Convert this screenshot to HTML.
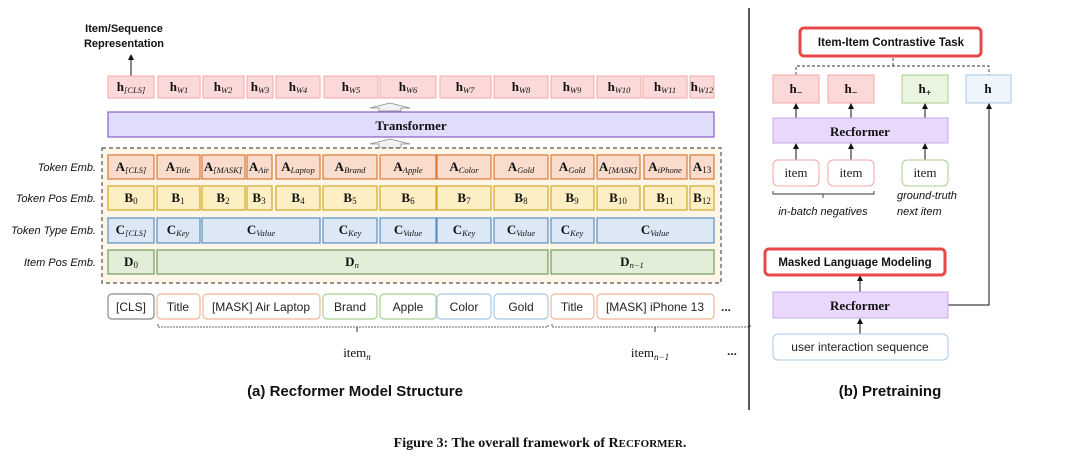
<!DOCTYPE html>
<html><head><meta charset="utf-8"><style>
html,body{margin:0;padding:0;background:#fff}
svg{display:block}
.b{font-family:"Liberation Serif",serif;font-weight:bold;font-size:13px;fill:#111}
.s{font-family:"Liberation Serif",serif;font-style:italic;font-weight:normal;font-size:8.5px}
.lab{font-family:"Liberation Sans",sans-serif;font-style:italic;font-size:11px;fill:#111}
.tok{font-family:"Liberation Sans",sans-serif;font-size:12px;fill:#222}
.cap{font-family:"Liberation Sans",sans-serif;font-weight:bold;font-size:15px;fill:#111}
</style></head><body>
<svg width="1080" height="466" viewBox="0 0 1080 466" xmlns="http://www.w3.org/2000/svg">
<defs><marker id="ah" markerWidth="6" markerHeight="6" refX="3" refY="3" orient="auto"><path d="M0,0 L6,3 L0,6 z" fill="#111"/></marker></defs>

<text x="124" y="32" text-anchor="middle" font-family="Liberation Sans,sans-serif" font-weight="bold" font-size="11" fill="#111">Item/Sequence</text>
<text x="124" y="47" text-anchor="middle" font-family="Liberation Sans,sans-serif" font-weight="bold" font-size="11" fill="#111">Representation</text>
<line x1="131" y1="76" x2="131" y2="57" stroke="#111" stroke-width="1" marker-end="url(#ah)"/>

<g fill="#fcd9d9" stroke="#f4a6a6" stroke-width="1">
<rect x="108" y="76" width="46" height="22"/><rect x="158" y="76" width="42" height="22"/><rect x="203" y="76" width="41" height="22"/><rect x="247" y="76" width="26" height="22"/><rect x="276" y="76" width="44" height="22"/><rect x="324" y="76" width="54" height="22"/><rect x="380" y="76" width="56" height="22"/><rect x="440" y="76" width="51" height="22"/><rect x="494" y="76" width="54" height="22"/><rect x="551" y="76" width="43" height="22"/><rect x="597" y="76" width="44" height="22"/><rect x="643" y="76" width="44" height="22"/><rect x="690" y="76" width="24" height="22"/>
</g>
<g class="b" text-anchor="middle">
<text x="131" y="91">h<tspan class="s" dy="2">[CLS]</tspan></text>
<text x="179" y="91">h<tspan class="s" dy="2">W1</tspan></text>
<text x="223" y="91">h<tspan class="s" dy="2">W2</tspan></text>
<text x="260" y="91">h<tspan class="s" dy="2">W3</tspan></text>
<text x="298" y="91">h<tspan class="s" dy="2">W4</tspan></text>
<text x="351" y="91">h<tspan class="s" dy="2">W5</tspan></text>
<text x="408" y="91">h<tspan class="s" dy="2">W6</tspan></text>
<text x="465" y="91">h<tspan class="s" dy="2">W7</tspan></text>
<text x="521" y="91">h<tspan class="s" dy="2">W8</tspan></text>
<text x="572" y="91">h<tspan class="s" dy="2">W9</tspan></text>
<text x="619" y="91">h<tspan class="s" dy="2">W10</tspan></text>
<text x="665" y="91">h<tspan class="s" dy="2">W11</tspan></text>
<text x="702" y="91">h<tspan class="s" dy="2">W12</tspan></text>
</g>

<g fill="#f2f2f2" stroke="#888" stroke-width="0.8">
<path d="M370,108 L390,103 L410,108 L401,108 L401,111 L379,111 L379,108 z"/>
<path d="M370,144 L390,139 L410,144 L401,144 L401,148 L379,148 L379,144 z"/>
</g>
<rect x="108" y="112" width="606" height="25" fill="#e0dcfc" stroke="#8e5cc4" stroke-width="1.2"/>
<text x="411" y="130" text-anchor="middle" class="b" font-size="14">Transformer</text>

<rect x="102" y="148" width="619" height="135" fill="#fdf6e6" stroke="#555" stroke-width="1.2" stroke-dasharray="4,3"/>

<g class="lab" text-anchor="end">
<text x="96" y="171">Token Emb.</text>
<text x="96" y="202">Token Pos Emb.</text>
<text x="96" y="234">Token Type Emb.</text>
<text x="96" y="266">Item Pos Emb.</text>
</g>

<g fill="#f9dccb" stroke="#d9773a" stroke-width="1.2">
<rect x="108" y="155" width="46" height="24"/><rect x="157" y="155" width="43" height="24"/><rect x="202" y="155" width="43" height="24"/><rect x="247" y="155" width="25" height="24"/><rect x="276" y="155" width="44" height="24"/><rect x="323" y="155" width="54" height="24"/><rect x="380" y="155" width="56" height="24"/><rect x="437" y="155" width="54" height="24"/><rect x="494" y="155" width="54" height="24"/><rect x="551" y="155" width="43" height="24"/><rect x="597" y="155" width="43" height="24"/><rect x="644" y="155" width="43" height="24"/><rect x="690" y="155" width="24" height="24"/>
</g>
<g class="b" text-anchor="middle">
<text x="131" y="171">A<tspan class="s" dy="2">[CLS]</tspan></text>
<text x="178" y="171">A<tspan class="s" dy="2">Title</tspan></text>
<text x="223" y="171">A<tspan class="s" dy="2" font-size="7">[MASK]</tspan></text>
<text x="259" y="171">A<tspan class="s" dy="2">Air</tspan></text>
<text x="298" y="171">A<tspan class="s" dy="2">Laptop</tspan></text>
<text x="350" y="171">A<tspan class="s" dy="2">Brand</tspan></text>
<text x="408" y="171">A<tspan class="s" dy="2">Apple</tspan></text>
<text x="464" y="171">A<tspan class="s" dy="2">Color</tspan></text>
<text x="521" y="171">A<tspan class="s" dy="2">Gold</tspan></text>
<text x="572" y="171">A<tspan class="s" dy="2">Gold</tspan></text>
<text x="618" y="171">A<tspan class="s" dy="2" font-size="7">[MASK]</tspan></text>
<text x="665" y="171">A<tspan class="s" dy="2">iPhone</tspan></text>
<text x="702" y="171">A<tspan dy="2" font-size="9" font-weight="normal">13</tspan></text>
</g>

<g fill="#fdefc4" stroke="#d4a82a" stroke-width="1.2">
<rect x="108" y="186" width="46" height="24"/><rect x="157" y="186" width="43" height="24"/><rect x="202" y="186" width="43" height="24"/><rect x="247" y="186" width="25" height="24"/><rect x="276" y="186" width="44" height="24"/><rect x="323" y="186" width="54" height="24"/><rect x="380" y="186" width="56" height="24"/><rect x="437" y="186" width="54" height="24"/><rect x="494" y="186" width="54" height="24"/><rect x="551" y="186" width="43" height="24"/><rect x="597" y="186" width="43" height="24"/><rect x="644" y="186" width="43" height="24"/><rect x="690" y="186" width="24" height="24"/>
</g>
<g class="b" text-anchor="middle">
<text x="131" y="202">B<tspan dy="2" font-size="9" font-weight="normal">0</tspan></text>
<text x="178" y="202">B<tspan dy="2" font-size="9" font-weight="normal">1</tspan></text>
<text x="223" y="202">B<tspan dy="2" font-size="9" font-weight="normal">2</tspan></text>
<text x="259" y="202">B<tspan dy="2" font-size="9" font-weight="normal">3</tspan></text>
<text x="298" y="202">B<tspan dy="2" font-size="9" font-weight="normal">4</tspan></text>
<text x="350" y="202">B<tspan dy="2" font-size="9" font-weight="normal">5</tspan></text>
<text x="408" y="202">B<tspan dy="2" font-size="9" font-weight="normal">6</tspan></text>
<text x="464" y="202">B<tspan dy="2" font-size="9" font-weight="normal">7</tspan></text>
<text x="521" y="202">B<tspan dy="2" font-size="9" font-weight="normal">8</tspan></text>
<text x="572" y="202">B<tspan dy="2" font-size="9" font-weight="normal">9</tspan></text>
<text x="618" y="202">B<tspan dy="2" font-size="9" font-weight="normal">10</tspan></text>
<text x="665" y="202">B<tspan dy="2" font-size="9" font-weight="normal">11</tspan></text>
<text x="702" y="202">B<tspan dy="2" font-size="9" font-weight="normal">12</tspan></text>
</g>

<g fill="#dce8f5" stroke="#5b8ec4" stroke-width="1.2">
<rect x="108" y="218" width="46" height="25"/><rect x="157" y="218" width="43" height="25"/><rect x="202" y="218" width="118" height="25"/><rect x="323" y="218" width="54" height="25"/><rect x="380" y="218" width="56" height="25"/><rect x="437" y="218" width="54" height="25"/><rect x="494" y="218" width="54" height="25"/><rect x="551" y="218" width="43" height="25"/><rect x="597" y="218" width="117" height="25"/>
</g>
<g class="b" text-anchor="middle">
<text x="131" y="234">C<tspan class="s" dy="2">[CLS]</tspan></text>
<text x="178" y="234">C<tspan class="s" dy="2">Key</tspan></text>
<text x="261" y="234">C<tspan class="s" dy="2">Value</tspan></text>
<text x="350" y="234">C<tspan class="s" dy="2">Key</tspan></text>
<text x="408" y="234">C<tspan class="s" dy="2">Value</tspan></text>
<text x="464" y="234">C<tspan class="s" dy="2">Key</tspan></text>
<text x="521" y="234">C<tspan class="s" dy="2">Value</tspan></text>
<text x="572" y="234">C<tspan class="s" dy="2">Key</tspan></text>
<text x="655" y="234">C<tspan class="s" dy="2">Value</tspan></text>
</g>

<g fill="#e2eed8" stroke="#74a05a" stroke-width="1.2">
<rect x="108" y="250" width="46" height="24"/><rect x="157" y="250" width="391" height="24"/><rect x="551" y="250" width="163" height="24"/>
</g>
<g class="b" text-anchor="middle">
<text x="131" y="266">D<tspan dy="2" font-size="9" font-weight="normal">0</tspan></text>
<text x="352" y="266">D<tspan class="s" dy="2">n</tspan></text>
<text x="632" y="266">D<tspan class="s" dy="2">n−1</tspan></text>
</g>

<g fill="#fff" stroke-width="1.2">
<rect x="108" y="294" width="46" height="25" rx="4" stroke="#888"/>
<rect x="157" y="294" width="43" height="25" rx="4" stroke="#f0b898"/>
<rect x="203" y="294" width="117" height="25" rx="4" stroke="#f0b898"/>
<rect x="323" y="294" width="54" height="25" rx="4" stroke="#a8d090"/>
<rect x="380" y="294" width="56" height="25" rx="4" stroke="#a8d090"/>
<rect x="437" y="294" width="54" height="25" rx="4" stroke="#a8c8e8"/>
<rect x="494" y="294" width="54" height="25" rx="4" stroke="#a8c8e8"/>
<rect x="551" y="294" width="43" height="25" rx="4" stroke="#f0b898"/>
<rect x="597" y="294" width="117" height="25" rx="4" stroke="#f0b898"/>
</g>
<g class="tok" text-anchor="middle">
<text x="131" y="311">[CLS]</text><text x="178" y="311">Title</text><text x="261" y="311">[MASK] Air Laptop</text><text x="350" y="311">Brand</text><text x="408" y="311">Apple</text><text x="464" y="311">Color</text><text x="521" y="311">Gold</text><text x="572" y="311">Title</text><text x="655" y="311">[MASK] iPhone 13</text>
</g>
<text x="721" y="311" class="tok" font-weight="bold">...</text>

<g stroke="#333" stroke-width="0.8" fill="none" stroke-dasharray="2,1">
<path d="M158,324 L158,327 L548,327 L548,324"/>
<path d="M552,324 L552,327 L750,327 L750,324"/>
</g>
<line x1="357" y1="327" x2="357" y2="332" stroke="#333"/>
<line x1="655" y1="327" x2="655" y2="332" stroke="#333"/>
<text x="357" y="357" text-anchor="middle" font-family="Liberation Serif,serif" font-size="13" fill="#111">item<tspan font-style="italic" font-size="9" dy="3">n</tspan></text>
<text x="650" y="357" text-anchor="middle" font-family="Liberation Serif,serif" font-size="13" fill="#111">item<tspan font-style="italic" font-size="9" dy="3">n−1</tspan></text>
<text x="727" y="355" class="tok" font-weight="bold">...</text>

<text x="355" y="396" text-anchor="middle" class="cap">(a) Recformer Model Structure</text>

<line x1="749" y1="8" x2="749" y2="410" stroke="#222" stroke-width="1.5"/>

<rect x="800" y="28" width="181" height="28" rx="4" fill="#fff" stroke="#e84848" stroke-width="3"/>
<text x="891" y="46" text-anchor="middle" font-family="Liberation Sans,sans-serif" font-weight="bold" font-size="11.5" fill="#111">Item-Item Contrastive Task</text>
<path d="M796,75 L796,66 L989,66 L989,75 M893,66 L893,58" stroke="#333" stroke-width="0.9" fill="none" stroke-dasharray="3,2"/>

<rect x="773" y="75" width="46" height="28" fill="#fcd9d9" stroke="#f4a6a6"/>
<rect x="828" y="75" width="46" height="28" fill="#fcd9d9" stroke="#f4a6a6"/>
<rect x="902" y="75" width="46" height="28" fill="#eaf5e0" stroke="#a8d090"/>
<rect x="966" y="75" width="45" height="28" fill="#eef5fc" stroke="#a8c8e8"/>
<g class="b" text-anchor="middle">
<text x="796" y="93">h<tspan dy="3" font-size="10">−</tspan></text>
<text x="851" y="93">h<tspan dy="3" font-size="10">−</tspan></text>
<text x="925" y="93">h<tspan dy="3" font-size="10">+</tspan></text>
<text x="988" y="93">h</text>
</g>
<g stroke="#111" stroke-width="1">
<line x1="796" y1="118" x2="796" y2="106" marker-end="url(#ah)"/>
<line x1="851" y1="118" x2="851" y2="106" marker-end="url(#ah)"/>
<line x1="925" y1="118" x2="925" y2="106" marker-end="url(#ah)"/>
<line x1="796" y1="160" x2="796" y2="146" marker-end="url(#ah)"/>
<line x1="851" y1="160" x2="851" y2="146" marker-end="url(#ah)"/>
<line x1="925" y1="160" x2="925" y2="146" marker-end="url(#ah)"/>
<line x1="860" y1="292" x2="860" y2="278" marker-end="url(#ah)"/>
<line x1="860" y1="334" x2="860" y2="321" marker-end="url(#ah)"/>
<polyline points="948,305 989,305 989,106" fill="none" marker-end="url(#ah)"/>
</g>
<rect x="773" y="118" width="175" height="25" fill="#ead8fc" stroke="#c8a8ec"/>
<text x="860" y="136" text-anchor="middle" class="b" font-size="14">Recformer</text>
<g fill="#fff" stroke-width="1">
<rect x="773" y="160" width="46" height="26" rx="5" stroke="#f4a6a6"/>
<rect x="828" y="160" width="46" height="26" rx="5" stroke="#f4a6a6"/>
<rect x="902" y="160" width="46" height="26" rx="5" stroke="#a8d090"/>
</g>
<g text-anchor="middle" font-family="Liberation Serif,serif" font-size="13" fill="#222">
<text x="796" y="177">item</text><text x="851" y="177">item</text><text x="925" y="177">item</text>
</g>
<path d="M773,191 L773,194 L874,194 L874,191 M823,194 L823,198" stroke="#333" fill="none" stroke-width="0.9"/>
<g class="lab" font-size="11">
<text x="823" y="215" text-anchor="middle">in-batch negatives</text>
<text x="897" y="199">ground-truth</text>
<text x="897" y="215">next item</text>
</g>

<rect x="765" y="249" width="180" height="26" rx="4" fill="#fff" stroke="#e84848" stroke-width="3"/>
<text x="855" y="266" text-anchor="middle" font-family="Liberation Sans,sans-serif" font-weight="bold" font-size="11.5" fill="#111">Masked Language Modeling</text>
<rect x="773" y="292" width="175" height="26" fill="#ead8fc" stroke="#c8a8ec"/>
<text x="860" y="310" text-anchor="middle" class="b" font-size="14">Recformer</text>
<rect x="773" y="334" width="175" height="26" rx="5" fill="#fff" stroke="#a8c8e8"/>
<text x="860" y="351" text-anchor="middle" class="tok" font-size="12">user interaction sequence</text>

<text x="890" y="396" text-anchor="middle" class="cap">(b) Pretraining</text>

<text x="540" y="447" text-anchor="middle" font-family="Liberation Serif,serif" font-weight="bold" font-size="14" fill="#111">Figure 3: The overall framework of R<tspan font-size="11">ECFORMER</tspan>.</text>
</svg>
</body></html>
